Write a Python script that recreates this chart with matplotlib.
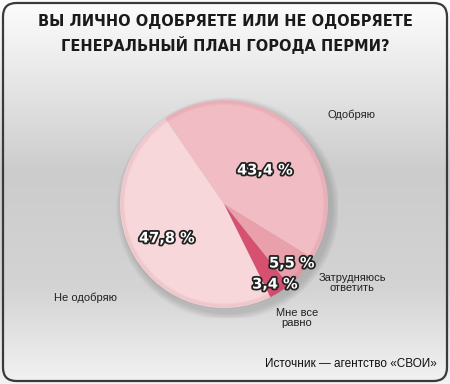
import numpy as np
import matplotlib
matplotlib.use("Agg")
import matplotlib.pyplot as plt
from matplotlib.patches import FancyBboxPatch, Circle
import matplotlib.patheffects as pe

categories = ["Одобряю", "Затрудняюсь\nответить", "Мне все\nравно", "Не одобряю"]
values = [43.4, 5.5, 3.4, 47.8]
pct_labels = ["43,4 %", "5,5 %", "3,4 %", "47,8 %"]
colors = ["#F1BCC4", "#E9A0AA", "#D65070", "#F8D7DA"]
title = "ВЫ ЛИЧНО ОДОБРЯЕТЕ ИЛИ НЕ ОДОБРЯЕТЕ\nГЕНЕРАЛЬНЫЙ ПЛАН ГОРОДА ПЕРМИ?"
source = "Источник — агентство «СВОИ»"

W, H = 450, 384
fig = plt.figure(figsize=(W / 100, H / 100), dpi=100)

def fx(x):
    return x / W

def fy(y):
    return 1 - y / H

# background gradient
bg = fig.add_axes([0, 0, 1, 1])
bg.set_axis_off()
t = np.linspace(0, 1, 256)
stops_t = [0.0, 0.15, 0.45, 0.75, 1.0]
stops_v = [0.99, 0.93, 0.80, 0.83, 0.95]
vals = np.interp(t, stops_t, stops_v)
grad = np.repeat(vals[:, None], 2, axis=1)
img = np.dstack([grad, grad, grad])
bg.imshow(img, aspect="auto", extent=[0, 1, 0, 1], origin="upper")
bg.set_xlim(0, 1)
bg.set_ylim(0, 1)
frame = FancyBboxPatch((fx(3), fy(381)), fx(444), (378) / H,
                       boxstyle="round,pad=0,rounding_size=0.03",
                       fill=False, edgecolor="#3a3a3a", linewidth=1.6,
                       transform=bg.transAxes, mutation_aspect=W / H)
bg.add_patch(frame)

# pie
cx, cy, r = 224, 204, 104
ax = fig.add_axes([fx(cx - r), fy(cy + r), 2 * r / W, 2 * r / H])
ax.set_axis_off()
# shadow (towards bottom right)
for i in range(6):
    ax.add_patch(Circle((0.035, -0.045), 1.0 + 0.012 * (6 - i), color="#555555",
                        alpha=0.045, zorder=0, linewidth=0))
wedges, _ = ax.pie(values, colors=colors, startangle=124.5, counterclock=False,
                   radius=1.0, wedgeprops=dict(linewidth=0))
for w in wedges:
    w.set_zorder(2)
# soft edge shading
for i in range(4):
    ax.add_patch(Circle((0, 0), 0.995 - 0.01 * i, fill=False,
                        edgecolor="#9a4050", alpha=0.035, linewidth=2, zorder=3))
ax.set_xlim(-1.1, 1.1)
ax.set_ylim(-1.1, 1.1)
ax.set_aspect("equal")
ax.set_position([fx(cx - r * 1.1), fy(cy + r * 1.1), 2.2 * r / W, 2.2 * r / H])

# percentage labels
stroke = [pe.withStroke(linewidth=2.6, foreground="#222222")]
pct_pos = [(265, 170), (292, 263), (275, 284), (167, 238)]
for lbl, (x, y) in zip(pct_labels, pct_pos):
    fig.text(fx(x), fy(y), lbl, ha="center", va="center", fontsize=10.5,
             fontweight="bold", color="white", path_effects=stroke,
             family="DejaVu Sans")

# category labels
cat_pos = [(352, 115), (352, 283), (297, 318), (85, 298)]
for lbl, (x, y) in zip(categories, cat_pos):
    fig.text(fx(x), fy(y), lbl, ha="center", va="center", fontsize=8,
             color="#222222", family="Liberation Sans", linespacing=1.0)

# title
fig.text(fx(225), fy(34), title, ha="center", va="center", fontsize=10.5,
         fontweight="bold", color="#1a1a1a", family="DejaVu Sans",
         linespacing=1.45)

# source
fig.text(fx(437), fy(364), source, ha="right", va="center", fontsize=8.5,
         color="#111111", family="Liberation Sans")

fig.savefig("out.png", dpi=100)
